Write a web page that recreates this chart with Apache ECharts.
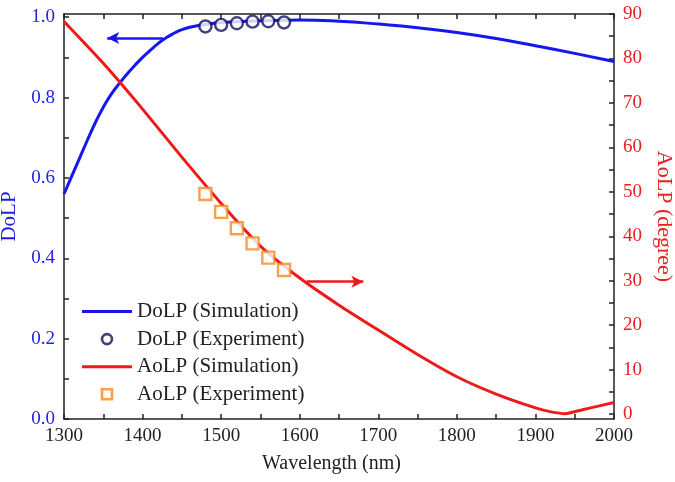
<!DOCTYPE html>
<html>
<head>
<meta charset="utf-8">
<script src="https://cdn.jsdelivr.net/npm/echarts@6/dist/echarts.min.js"></script>
<style>html,body{margin:0;padding:0;background:#fff}#c{width:675px;height:482px}</style>
</head>
<body>
<div id="c"></div>
<script>
// ---- data ----
var dolpSimWl = [1300,1310,1320,1330,1340,1350,1360,1370,1380,1390,1400,1410,1420,1430,1440,1450,1460,1480,1500,1550,1600,1650,1700,1750,1800,1850,1900,1950,2000];
var dolpSim   = [0.56,0.605,0.65,0.695,0.738,0.776,0.808,0.834,0.858,0.88,0.9,0.918,0.935,0.949,0.96,0.969,0.975,0.982,0.987,0.991,0.993,0.99,0.983,0.974,0.962,0.947,0.929,0.91,0.89];
var aolpSimWl = [1300,1350,1400,1450,1500,1550,1600,1650,1700,1750,1800,1850,1900,1920,1938,1960,1980,2000];
var aolpSim   = [88.3,78.9,68.6,57.8,47.4,37.8,30.6,24.5,18.9,13.4,8.4,4.5,1.4,0.5,0.1,1.0,1.8,2.6];
var expWl     = [1480,1500,1520,1540,1560,1580];
var dolpExp   = [0.977,0.981,0.985,0.989,0.990,0.987];
var aolpExp   = [49.5,45.5,41.8,38.4,35.2,32.4];
var xLabels   = [1300,1400,1500,1600,1700,1800,1900,2000];
var xTicks    = [1300,1350,1400,1450,1500,1550,1600,1650,1700,1750,1800,1850,1900,1950,2000];
var leftLabels= [0,0.2,0.4,0.6,0.8,1.0];
var leftTicks = [0,0.1,0.2,0.3,0.4,0.5,0.6,0.7,0.8,0.9,1.0];
var rightLabels=[0,10,20,30,40,50,60,70,80,90];
var rightTicks= [0,5,10,15,20,25,30,35,40,45,50,55,60,65,70,75,80,85,90];
var dolpArrow = [[1426,0.948],[1355,0.948]];
var aolpArrow = [[1609,29.8],[1681,29.8]];

function zip(a,b){return a.map(function(v,i){return [v,b[i]];});}

var FONT = 'Liberation Serif';
var AX = '#222';
var BLUE = '#1616ee', RED = '#ee1a1a', NAVY = '#12125e', ORANGE = '#f58a1f';
var LINE_ICON = 'path://M0,0 L50,0 L50,3 L0,3 Z';
var SQ_ICON = 'path://M0,0 L10,0 L10,10 L0,10 Z';

var chart = echarts.init(document.getElementById('c'), null, {renderer:'canvas'});
chart.setOption({
  animation:false,
  backgroundColor:'#fff',
  grid:{left:64,right:61,top:14,bottom:63,containLabel:false,outerBoundsMode:'none'},
  legend:{
    orient:'vertical', left:82, top:301, padding:0, itemGap:6.6, itemWidth:50, itemHeight:10,
    textStyle:{fontFamily:FONT,fontSize:21,color:'#222'},
    data:[
      {name:'DoLP (Simulation)', icon:LINE_ICON, itemStyle:{color:BLUE,borderWidth:0}},
      {name:'DoLP (Experiment)', icon:'circle', itemStyle:{color:'#fff',borderColor:NAVY,borderWidth:2.6}},
      {name:'AoLP (Simulation)', icon:LINE_ICON, itemStyle:{color:RED,borderWidth:0}},
      {name:'AoLP (Experiment)', icon:SQ_ICON, itemStyle:{color:'#fff',borderColor:ORANGE,borderWidth:2.6}}
    ]
  },
  xAxis:[{
    type:'value', min:1300, max:2000, position:'bottom',
    name:'Wavelength (nm)', nameLocation:'middle', nameGap:35,
    nameTextStyle:{fontFamily:FONT,fontSize:20,color:'#222',padding:[0,15,0,0]},
    axisLine:{show:true,onZero:false,lineStyle:{color:AX,width:1.5}},
    axisTick:{show:true,inside:true,length:5,customValues:xTicks,lineStyle:{color:AX,width:1.5}},
    axisLabel:{customValues:xLabels,fontFamily:FONT,fontSize:19,color:'#222',margin:8,
      formatter:function(v){return String(v);}},
    splitLine:{show:false}
  },{
    type:'value', min:1300, max:2000, position:'top',
    axisLine:{show:true,onZero:false,lineStyle:{color:AX,width:1.5}},
    axisTick:{show:true,inside:true,length:5,customValues:xTicks,lineStyle:{color:AX,width:1.5}},
    axisLabel:{show:false},
    splitLine:{show:false}
  }],
  yAxis:[{
    type:'value', min:0, max:1.008, position:'left',
    name:'DoLP', nameLocation:'middle', nameGap:37,
    nameTextStyle:{fontFamily:FONT,fontSize:21,color:'#1a1ae6'},
    axisLine:{show:true,onZero:false,lineStyle:{color:AX,width:1.5}},
    axisTick:{show:true,inside:true,length:5,customValues:leftTicks,lineStyle:{color:AX,width:1.5}},
    axisLabel:{customValues:leftLabels,fontFamily:FONT,fontSize:19,color:'#2222e8',margin:9,
      formatter:function(v){return v.toFixed(1);}},
    splitLine:{show:false}
  },{
    type:'value', min:-1.1, max:90, position:'right',
    name:'AoLP (degree)', nameLocation:'middle', nameGap:35, nameRotate:-90,
    nameTextStyle:{fontFamily:FONT,fontSize:22,color:'#e8201e'},
    axisLine:{show:true,onZero:false,lineStyle:{color:AX,width:1.5}},
    axisTick:{show:true,inside:true,length:5,customValues:rightTicks,lineStyle:{color:AX,width:1.5}},
    axisLabel:{customValues:rightLabels,fontFamily:FONT,fontSize:19,color:'#e8201e',margin:9,
      formatter:function(v){return String(v);}},
    splitLine:{show:false}
  }],
  series:[{
    name:'DoLP (Simulation)', type:'line', xAxisIndex:0, yAxisIndex:0,
    data:zip(dolpSimWl,dolpSim), smooth:true, symbol:'none',
    lineStyle:{color:BLUE,width:3}, itemStyle:{color:BLUE}, z:2,
    markLine:{silent:true, symbol:['none','arrow'], symbolSize:[9,12], label:{show:false},
      lineStyle:{color:BLUE,width:2.5,type:'solid'},
      data:[[{coord:dolpArrow[0]},{coord:dolpArrow[1]}]]}
  },{
    name:'DoLP (Experiment)', type:'scatter', xAxisIndex:0, yAxisIndex:0,
    data:zip(expWl,dolpExp), symbol:'circle', symbolSize:12,
    itemStyle:{color:'#fff',borderColor:NAVY,borderWidth:2.4}, z:4
  },{
    name:'AoLP (Simulation)', type:'line', xAxisIndex:0, yAxisIndex:1,
    data:zip(aolpSimWl,aolpSim), smooth:0.2, symbol:'none',
    lineStyle:{color:RED,width:3}, itemStyle:{color:RED}, z:3,
    markLine:{silent:true, symbol:['none','arrow'], symbolSize:[9,12], label:{show:false},
      lineStyle:{color:RED,width:2.5,type:'solid'},
      data:[[{coord:aolpArrow[0]},{coord:aolpArrow[1]}]]}
  },{
    name:'AoLP (Experiment)', type:'scatter', xAxisIndex:0, yAxisIndex:1,
    data:zip(expWl,aolpExp), symbol:'rect', symbolSize:12,
    itemStyle:{color:'#fff',borderColor:ORANGE,borderWidth:2.4}, z:4
  }]
});
</script>
</body>
</html>
